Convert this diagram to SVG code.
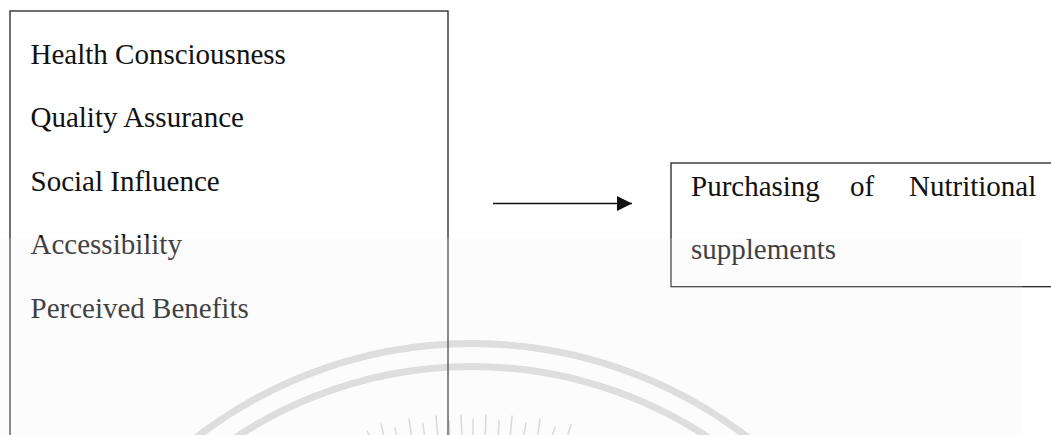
<svg xmlns="http://www.w3.org/2000/svg" width="1051" height="435" viewBox="0 0 1051 435">
  <style>
    .box { fill: none; stroke: #222; stroke-width: 1.3; }
    .lbl { font-family: "Liberation Serif", "Times New Roman", serif; font-size: 29px; fill: #111; }
    .ring { fill: none; stroke: #d9d9d9; stroke-width: 7; }
    .ray { stroke: #d6d6d6; stroke-width: 1.6; stroke-linecap: round; }
    .edge { stroke: #111; stroke-width: 1.3; fill: none; }
  </style>
  <defs>
    <marker id="arrowhead" viewBox="0 0 15 15" refX="15" refY="7.5" markerWidth="15" markerHeight="15" markerUnits="userSpaceOnUse" orient="auto">
      <path d="M0,0 L15,7.5 L0,15 Z" fill="#111"/>
    </marker>
  </defs>

  <rect x="0" y="0" width="1051" height="435" fill="#ffffff"/>

  <!-- faint emblem in the background -->
  <g id="emblem">
    <circle class="ring" cx="472" cy="795" r="451.5"/>
    <circle class="ring" cx="472" cy="795" r="428.5"/>
    <g>
      <line class="ray" x1="367" y1="431" x2="372" y2="440"/>
      <line class="ray" x1="381" y1="424" x2="385" y2="440"/>
      <line class="ray" x1="395" y1="428" x2="398" y2="440"/>
      <line class="ray" x1="409" y1="419" x2="412" y2="440"/>
      <line class="ray" x1="423" y1="424" x2="425" y2="440"/>
      <line class="ray" x1="436" y1="416" x2="438" y2="440"/>
      <line class="ray" x1="449" y1="421" x2="450" y2="440"/>
      <line class="ray" x1="461" y1="415" x2="462" y2="440"/>
      <line class="ray" x1="473" y1="419" x2="473" y2="440"/>
      <line class="ray" x1="486" y1="415" x2="485" y2="440"/>
      <line class="ray" x1="499" y1="420" x2="498" y2="440"/>
      <line class="ray" x1="512" y1="416" x2="510" y2="440"/>
      <line class="ray" x1="526" y1="423" x2="523" y2="440"/>
      <line class="ray" x1="540" y1="419" x2="537" y2="440"/>
      <line class="ray" x1="555" y1="427" x2="551" y2="440"/>
      <line class="ray" x1="571" y1="425" x2="566" y2="440"/>
    </g>
  </g>

  <!-- determinants -->
  <g id="factors">
    <rect class="box" x="10" y="11" width="438" height="440"/>
    <text class="lbl" x="30.5" y="63.5">Health Consciousness</text>
    <text class="lbl" x="30.5" y="127">Quality Assurance</text>
    <text class="lbl" x="30.5" y="190.5">Social Influence</text>
    <text class="lbl" x="30.5" y="254">Accessibility</text>
    <text class="lbl" x="30.5" y="317.5">Perceived Benefits</text>
  </g>

  <!-- outcome -->
  <g id="purchasing">
    <rect class="box" x="671" y="163" width="400" height="123.7"/>
    <text class="lbl" y="196"><tspan x="691">Purchasing</tspan><tspan x="850">of</tspan><tspan x="909">Nutritional</tspan></text>
    <text class="lbl" x="691" y="258.5">supplements</text>
  </g>

  <g id="connectors">
    <line class="edge" x1="493" y1="203.5" x2="632" y2="203.5" marker-end="url(#arrowhead)"/>
  </g>

  <!-- light haze over the lower part of the page -->
  <rect x="0" y="238" width="1022" height="197" fill="#f3f3f3" opacity="0.21"/>
</svg>
